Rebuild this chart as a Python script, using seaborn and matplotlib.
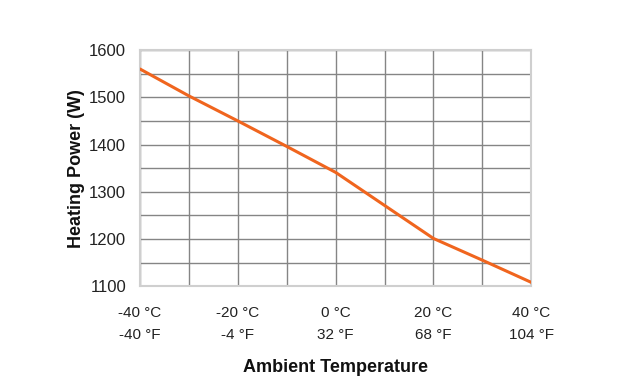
import matplotlib
matplotlib.use("Agg")
import matplotlib.pyplot as plt
import seaborn as sns
import pandas as pd

# values
temps_c = [-40, -30, -20, -10, 0, 10, 20, 30, 40]
power_w = [1560, 1503, 1450, 1396, 1341, 1271, 1201, 1155, 1108]
tick_c = [-40, -20, 0, 20, 40]
tick_labels = ["-40 °C\n-40 °F", "-20 °C\n-4 °F", "0 °C\n32 °F", "20 °C\n68 °F", "40 °C\n104 °F"]
y_ticks = [1100, 1200, 1300, 1400, 1500, 1600]

sns.set_style("white")
plt.rcParams["font.family"] = ["Liberation Sans", "DejaVu Sans"]

df = pd.DataFrame({"temp": temps_c, "power": power_w})

fig = plt.figure(figsize=(6.31, 3.92), dpi=100)
ax = fig.add_axes([0.222, 0.270, 0.620, 0.602])

sns.lineplot(data=df, x="temp", y="power", ax=ax, color="#f0651e", linewidth=2.2, zorder=3)

ax.set_xlim(-40, 40)
ax.set_ylim(1100, 1600)
ax.set_xticks(range(-40, 41, 10))
ax.set_yticks(range(1100, 1601, 50))
ax.grid(True, color="#858585", linewidth=1.0)
ax.set_axisbelow(True)

# labels only on every other grid line
ax.set_xticklabels([tick_labels[tick_c.index(t)] if t in tick_c else "" for t in range(-40, 41, 10)],
                   fontsize=11, color="#222222", linespacing=1.75)
ax.set_yticklabels([str(v) if v in y_ticks else "" for v in range(1100, 1601, 50)],
                   fontsize=12, color="#222222")
ax.tick_params(axis="both", length=0)
ax.tick_params(axis="y", pad=10)
ax.tick_params(axis="x", pad=14)

for s in ax.spines.values():
    s.set_color("#cfcfcf")
    s.set_linewidth(1.5)

ax.set_xlabel("Ambient Temperature", fontsize=13, fontweight="bold", labelpad=12, color="#111111")
ax.set_ylabel("Heating Power (W)", fontsize=13, fontweight="bold", labelpad=3, color="#111111")

fig.savefig("out.png", dpi=100)
